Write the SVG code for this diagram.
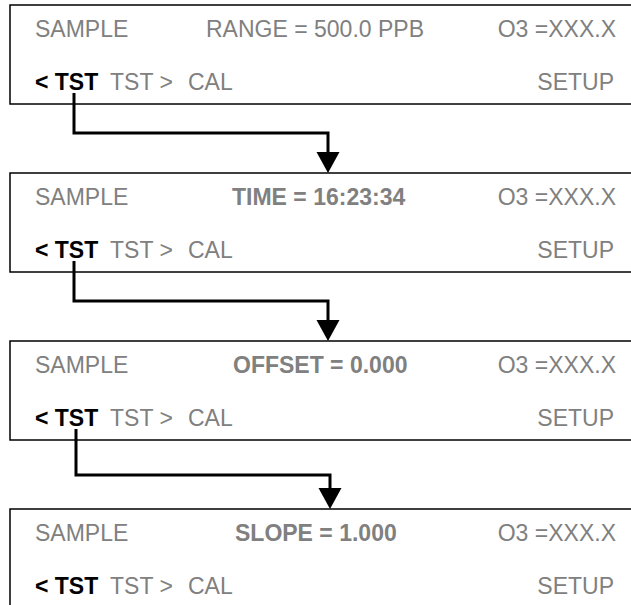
<svg xmlns="http://www.w3.org/2000/svg" width="631" height="605" viewBox="0 0 631 605">
  <style>
    .box { fill: #ffffff; stroke: #000000; stroke-width: 1.5; }
    .t { font-family: "Liberation Sans", Arial, sans-serif; font-size: 23px; fill: #808080; }
    .b { font-weight: bold; }
    .k { fill: #000000; }
    .end { text-anchor: end; }
    .conn { fill: none; stroke: #000000; stroke-width: 3; }
    .head { fill: #000000; }
  </style>
  <rect width="631" height="605" fill="#ffffff"/>

  <g id="screen1">
    <rect class="box" x="10" y="5" width="640" height="99"/>
    <text class="t" x="35" y="37">SAMPLE</text>
    <text class="t" x="206" y="37">RANGE = 500.0 PPB</text>
    <text class="t end" x="616" y="37">O3 =XXX.X</text>
    <text class="t b k" x="35" y="90">&lt; TST</text>
    <text class="t" x="110" y="90">TST &gt;</text>
    <text class="t" x="188" y="90">CAL</text>
    <text class="t end" x="614" y="90">SETUP</text>
  </g>

  <g id="screen2">
    <rect class="box" x="10" y="173" width="640" height="99"/>
    <text class="t" x="35" y="205">SAMPLE</text>
    <text class="t b" x="232" y="205">TIME = 16:23:34</text>
    <text class="t end" x="616" y="205">O3 =XXX.X</text>
    <text class="t b k" x="35" y="258">&lt; TST</text>
    <text class="t" x="110" y="258">TST &gt;</text>
    <text class="t" x="188" y="258">CAL</text>
    <text class="t end" x="614" y="258">SETUP</text>
  </g>

  <g id="screen3">
    <rect class="box" x="10" y="341" width="640" height="99"/>
    <text class="t" x="35" y="373">SAMPLE</text>
    <text class="t b" x="233" y="373">OFFSET = 0.000</text>
    <text class="t end" x="616" y="373">O3 =XXX.X</text>
    <text class="t b k" x="35" y="426">&lt; TST</text>
    <text class="t" x="110" y="426">TST &gt;</text>
    <text class="t" x="188" y="426">CAL</text>
    <text class="t end" x="614" y="426">SETUP</text>
  </g>

  <g id="screen4">
    <rect class="box" x="10" y="509" width="640" height="120"/>
    <text class="t" x="35" y="541">SAMPLE</text>
    <text class="t b" x="235" y="541">SLOPE = 1.000</text>
    <text class="t end" x="616" y="541">O3 =XXX.X</text>
    <text class="t b k" x="35" y="594">&lt; TST</text>
    <text class="t" x="110" y="594">TST &gt;</text>
    <text class="t" x="188" y="594">CAL</text>
    <text class="t end" x="614" y="594">SETUP</text>
  </g>

  <g id="connectors">
    <polyline class="conn" points="74,93 74,133 328,133 328,153"/>
    <polygon class="head" points="316.5,152 339.5,152 328,173"/>
    <polyline class="conn" points="74,261 74,301 328,301 328,321"/>
    <polygon class="head" points="316.5,320 339.5,320 328,341"/>
    <polyline class="conn" points="76,429 76,475 330,475 330,489"/>
    <polygon class="head" points="318.5,488 341.5,488 330,509"/>
  </g>
</svg>
